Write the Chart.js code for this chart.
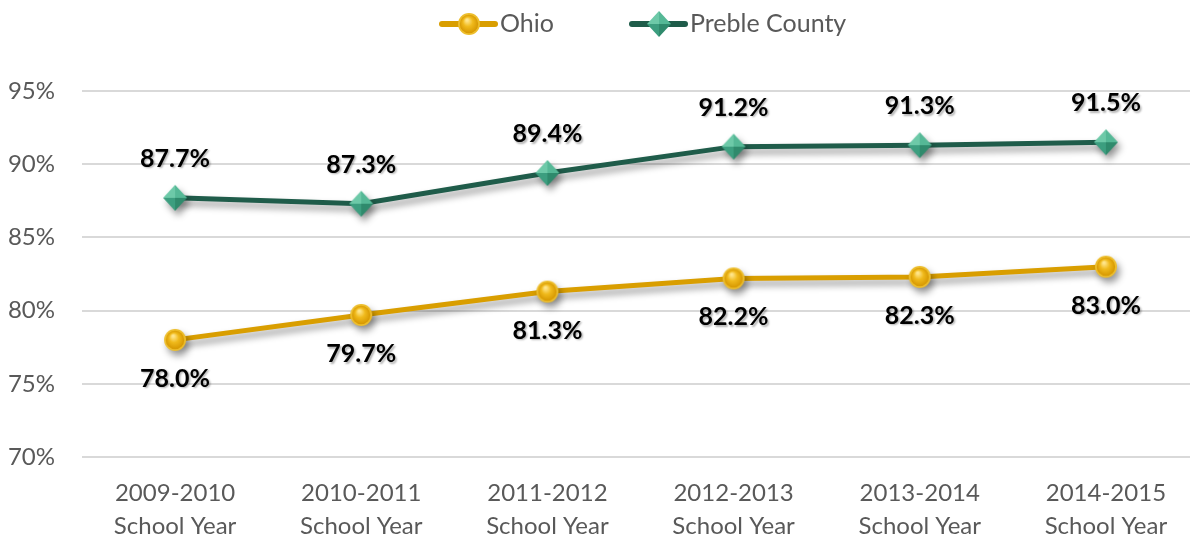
<!DOCTYPE html>
<html>
<head>
<meta charset="utf-8">
<script src="https://cdn.jsdelivr.net/npm/chart.js@4"></script>
<style>
  html, body { margin: 0; padding: 0; background: #fff; overflow: hidden; }
  #wrap { width: 1208px; height: 540px; }
</style>
</head>
<body>
<div id="wrap"><canvas id="chart" width="1208" height="540"></canvas></div>
<script>
// datos
const years = [
  ['2009-2010', 'School Year'],
  ['2010-2011', 'School Year'],
  ['2011-2012', 'School Year'],
  ['2012-2013', 'School Year'],
  ['2013-2014', 'School Year'],
  ['2014-2015', 'School Year']
]
const ohio = [78.0, 79.7, 81.3, 82.2, 82.3, 83.0]
const preble = [87.7, 87.3, 89.4, 91.2, 91.3, 91.5]
const yTicks = [70, 75, 80, 85, 90, 95]

const FONT = 'Lato, "Open Sans", sans-serif'
const GRAY = '#595959'

// marcador dorado (círculo con brillo)
function makeCircle() {
  const c = document.createElement('canvas')
  c.width = 26; c.height = 26
  const g = c.getContext('2d')
  const r = 11
  g.beginPath()
  g.arc(13, 13, r, 0, Math.PI * 2)
  g.fillStyle = '#EDBE2C'
  g.fill()
  const grad = g.createRadialGradient(11, 9, 1, 13, 13, r - 1.5)
  grad.addColorStop(0, '#FFE58A')
  grad.addColorStop(0.45, '#F0BA1C')
  grad.addColorStop(1, '#D59600')
  g.beginPath()
  g.arc(13, 13, r - 1.8, 0, Math.PI * 2)
  g.fillStyle = grad
  g.fill()
  return c
}

// marcador verde (diamante tipo pirámide)
function makeDiamond() {
  const c = document.createElement('canvas')
  c.width = 28; c.height = 30
  const g = c.getContext('2d')
  const cx = 14, cy = 15, w = 12, h = 13
  const top = [cx, cy - h], right = [cx + w, cy], bottom = [cx, cy + h], left = [cx - w, cy]
  const mid = [cx, cy]
  const tri = (a, b, col) => {
    g.beginPath()
    g.moveTo(mid[0], mid[1]); g.lineTo(a[0], a[1]); g.lineTo(b[0], b[1]); g.closePath()
    g.fillStyle = col
    g.fill()
  }
  tri(left, top, '#6DC9A8')
  tri(top, right, '#55B896')
  tri(right, bottom, '#2F8A6C')
  tri(bottom, left, '#3C9E7F')
  return c
}

const circle = makeCircle()
const diamond = makeDiamond()

// sombra suave bajo las líneas
const shadowPlugin = {
  id: 'shadowPlugin',
  beforeDatasetDraw(chart) {
    const ctx = chart.ctx
    ctx.save()
    ctx.shadowColor = 'rgba(0,0,0,0.4)'
    ctx.shadowBlur = 7
    ctx.shadowOffsetX = 3
    ctx.shadowOffsetY = 5
  },
  afterDatasetDraw(chart) {
    chart.ctx.restore()
  }
}

// etiquetas de valor: Preble arriba, Ohio abajo
const labelsPlugin = {
  id: 'labelsPlugin',
  afterDatasetsDraw(chart) {
    const ctx = chart.ctx
    ctx.save()
    ctx.font = 'bold 25px ' + FONT
    ctx.fillStyle = '#000'
    ctx.textAlign = 'center'
    ctx.textBaseline = 'middle'
    ctx.shadowColor = 'rgba(0,0,0,0.3)'
    ctx.shadowBlur = 2
    ctx.shadowOffsetX = 1.5
    ctx.shadowOffsetY = 1.5
    chart.data.datasets.forEach((ds, i) => {
      const meta = chart.getDatasetMeta(i)
      const dy = ds.labelAbove ? -39 : 39
      meta.data.forEach((pt, j) => {
        ctx.fillText(ds.data[j].toFixed(1) + '%', pt.x, pt.y + dy)
      })
    })
    ctx.restore()
  }
}

// leyenda con línea y marcador
const legendPlugin = {
  id: 'legendPlugin',
  afterDraw(chart) {
    const ctx = chart.ctx
    const items = [
      { x: 440, ds: chart.data.datasets[0], img: circle },
      { x: 630, ds: chart.data.datasets[1], img: diamond }
    ]
    const y = 24
    ctx.save()
    items.forEach(it => {
      ctx.strokeStyle = it.ds.borderColor
      ctx.lineWidth = 6
      ctx.lineCap = 'round'
      ctx.beginPath()
      ctx.moveTo(it.x + 2, y)
      ctx.lineTo(it.x + 55, y)
      ctx.stroke()
      ctx.drawImage(it.img, it.x + 29 - it.img.width / 2, y - it.img.height / 2)
      ctx.font = '25px ' + FONT
      ctx.fillStyle = GRAY
      ctx.textAlign = 'left'
      ctx.textBaseline = 'middle'
      ctx.fillText(it.ds.label, it.x + 60, y)
    })
    ctx.restore()
  }
}

const ctx = document.getElementById('chart')
new Chart(ctx, {
  type: 'line',
  data: {
    labels: years,
    datasets: [
      {
        label: 'Ohio',
        data: ohio,
        borderColor: '#D99E00',
        borderWidth: 5,
        pointStyle: circle,
        labelAbove: false,
        tension: 0
      },
      {
        label: 'Preble County',
        data: preble,
        borderColor: '#1F5C4A',
        borderWidth: 5,
        pointStyle: diamond,
        labelAbove: true,
        tension: 0
      }
    ]
  },
  options: {
    responsive: false,
    animation: false,
    layout: { padding: { top: 91, right: 0, bottom: 0, left: 0 } },
    plugins: {
      legend: { display: false },
      tooltip: { enabled: false }
    },
    scales: {
      x: {
        offset: true,
        grid: { display: false },
        border: { display: false },
        ticks: { color: GRAY, font: { family: FONT, size: 24, lineHeight: 1.38 }, padding: 12, maxRotation: 0 },
        afterFit(scale) { scale.height = 83 }
      },
      y: {
        min: 70,
        max: 95,
        afterBuildTicks(scale) { scale.ticks = yTicks.map(v => ({ value: v })) },
        grid: { color: '#D9D9D9', lineWidth: 2, drawTicks: false },
        border: { display: false },
        ticks: {
          color: GRAY,
          padding: 27,
          font: { family: FONT, size: 24 },
          callback: v => v + '%'
        },
        afterFit(scale) { scale.width = 82 }
      }
    }
  },
  plugins: [shadowPlugin, labelsPlugin, legendPlugin]
})
</script>
</body>
</html>
